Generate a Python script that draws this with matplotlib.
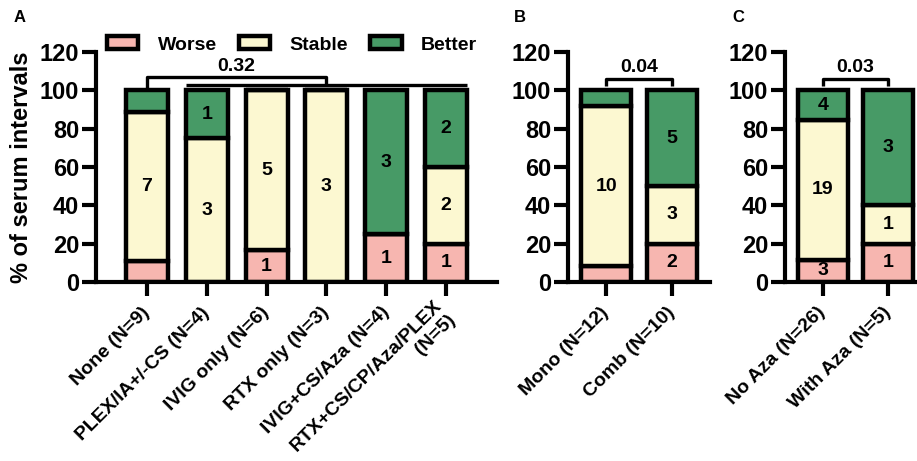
import matplotlib
matplotlib.use("Agg")
import matplotlib.pyplot as plt
from matplotlib.patches import Patch
import numpy as np

plt.rcParams['font.family'] = ['Liberation Sans', 'DejaVu Sans']
plt.rcParams['font.weight'] = 'bold'

# Outcome counts per group: Worse / Stable / Better
groups_a = ["None (N=9)", "PLEX/IA+/-CS (N=4)", "IVIG only (N=6)", "RTX only (N=3)",
            "IVIG+CS/Aza (N=4)", "RTX+CS/CP/Aza/PLEX\n(N=5)"]
worse_a = [1, 0, 1, 0, 1, 1]
stable_a = [7, 3, 5, 3, 0, 2]
better_a = [1, 1, 0, 0, 3, 2]

groups_b = ["Mono (N=12)", "Comb (N=10)"]
worse_b = [1, 2]
stable_b = [10, 3]
better_b = [1, 5]

groups_c = ["No Aza (N=26)", "With Aza (N=5)"]
worse_c = [3, 1]
stable_c = [19, 1]
better_c = [4, 3]

p_a, p_b, p_c = "0.32", "0.04", "0.03"

outcomes = ["Worse", "Stable", "Better"]
colors = ["#F7B6B0", "#FCF8D1", "#479A66"]
EDGE = 3.2
FIG_W, FIG_H = 917, 461


def px_axes(left, right, bottom=282, top=52):
    return [left / FIG_W, 1 - bottom / FIG_H, (right - left) / FIG_W, (bottom - top) / FIG_H]


def stacked(ax, labels, worse, stable, better, width, xlim):
    counts = np.array([worse, stable, better], dtype=float)
    totals = counts.sum(axis=0)
    pct = counts / totals * 100
    x = np.arange(len(labels))
    bottom = np.zeros(len(labels))
    for k in range(3):
        ax.bar(x, pct[k], width, bottom=bottom, color=colors[k],
               edgecolor="black", linewidth=EDGE, zorder=2)
        for i in range(len(labels)):
            if counts[k, i] > 0 and pct[k, i] >= 11.3:
                ax.text(x[i], bottom[i] + pct[k, i] / 2, f"{int(counts[k, i])}",
                        ha="center", va="center", fontsize=14, fontweight="bold", zorder=3)
        bottom = bottom + pct[k]
    ax.set_xlim(*xlim)
    ax.set_ylim(0, 120)
    ax.set_yticks(np.arange(0, 121, 20))
    ax.set_xticks(x)
    ax.set_xticklabels(labels, rotation=45, ha="right", va="center",
                       rotation_mode="anchor", fontsize=14, fontweight="bold")
    ax.tick_params(axis="y", labelsize=17, length=10, width=3, pad=2)
    ax.tick_params(axis="x", length=10, width=3, pad=10)
    for s in ["top", "right"]:
        ax.spines[s].set_visible(False)
    for s in ["left", "bottom"]:
        ax.spines[s].set_linewidth(3)
    ax.spines["left"].set_bounds(0, 120)
    return x


def bracket(ax, x0, x1, y_top, y_tip, label):
    kw = dict(color="black", lw=2.4, clip_on=False, solid_capstyle="butt", zorder=4)
    ax.plot([x0, x0, x1, x1], [y_tip, y_top, y_top, y_tip], **kw)
    ax.text((x0 + x1) / 2, y_top + 1.5, label, ha="center", va="bottom",
            fontsize=14, fontweight="bold")


fig = plt.figure(figsize=(FIG_W / 100, FIG_H / 100), dpi=100)

axA = fig.add_axes(px_axes(96, 497))
axB = fig.add_axes(px_axes(568, 710))
axC = fig.add_axes(px_axes(785, 926))

wa, wb, wc = 0.7, 0.75, 0.77
stacked(axA, groups_a, worse_a, stable_a, better_a, wa, (-0.85, 5.85))
stacked(axB, groups_b, worse_b, stable_b, better_b, wb, (-0.58, 1.58))
stacked(axC, groups_c, worse_c, stable_c, better_c, wc, (-0.58, 1.58))

# Panel A: "None" against all treated groups
kw = dict(color="black", lw=2.4, clip_on=False, solid_capstyle="butt", zorder=4)
left_edge, right_edge = 1 - wa / 2, 5 + wa / 2
mid = (left_edge + right_edge) / 2
axA.plot([0, 0, mid, mid], [100.5, 106.7, 106.7, 102.8], **kw)
axA.plot([left_edge, right_edge], [102.8, 102.8], **kw)
axA.text(mid / 2, 108.2, p_a, ha="center", va="bottom", fontsize=14, fontweight="bold")

bracket(axB, 0, 1, 105.8, 102.3, p_b)
bracket(axC, 0, 1, 105.8, 102.3, p_c)

fig.text(22 / FIG_W, 1 - 167 / FIG_H, "% of serum intervals", rotation=90,
         ha="center", va="center", fontsize=17, fontweight="bold")

for letter, xp in [("A", 20), ("B", 520), ("C", 738)]:
    fig.text(xp / FIG_W, 1 - 18 / FIG_H, letter, ha="center", va="center",
             fontsize=12, fontweight="bold")

handles = [Patch(facecolor=c, edgecolor="black", linewidth=EDGE) for c in colors]
fig.legend(handles, outcomes, ncol=3, loc="center left",
           bbox_to_anchor=(107 / FIG_W, 1 - 45 / FIG_H), frameon=False,
           prop={"size": 14, "weight": "bold"}, handlelength=1.6, handleheight=0.6,
           handletextpad=1.0, columnspacing=1.15, borderpad=0, borderaxespad=0)

fig.savefig("out.png", dpi=100)
